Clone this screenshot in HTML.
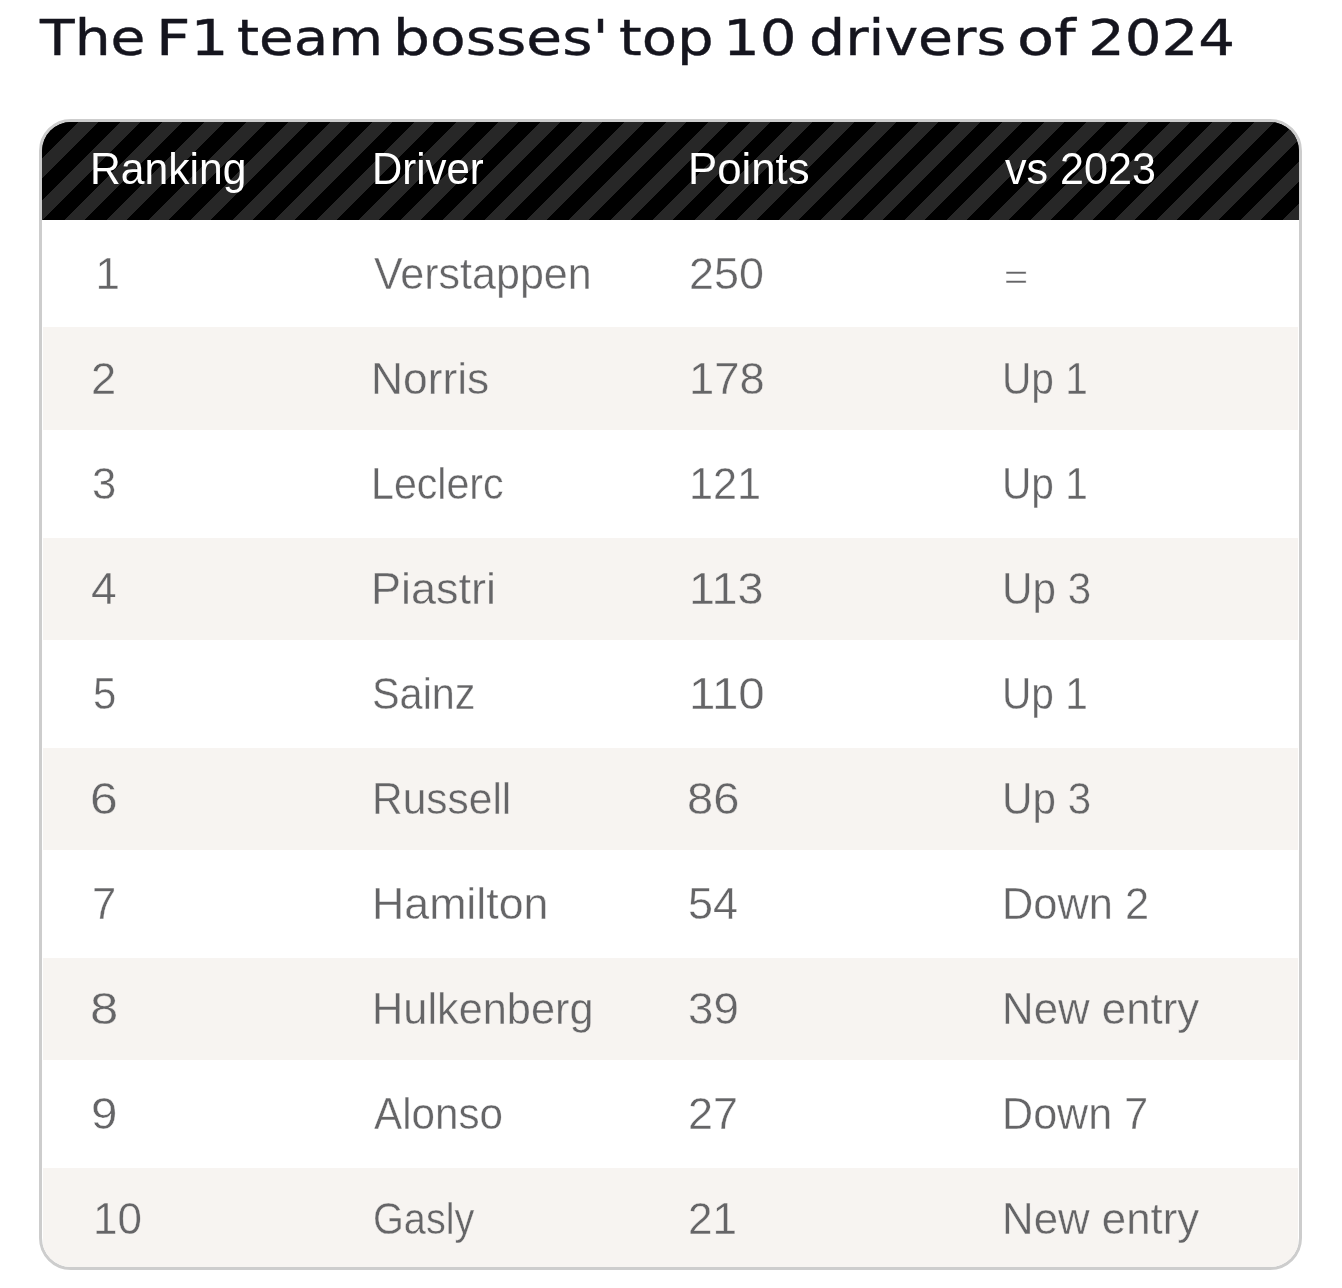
<!DOCTYPE html>
<html lang="en"><head><meta charset="utf-8"><title>The F1 team bosses' top 10 drivers of 2024</title>
<style>
html,body{margin:0;padding:0;background:#fff}
body{width:1342px;height:1288px;position:relative;overflow:hidden}
span{position:absolute;white-space:pre;line-height:0;transform-origin:0 0}
h1{margin:0;font-weight:normal;font-size:50.2px}
.t{-webkit-text-stroke:0.4px #15151e;font-family:"DejaVu Sans","Liberation Sans",sans-serif;font-size:50.2px;color:#15151e}
.h{font-family:"Liberation Sans",sans-serif;font-size:44px;color:#fff;font-weight:normal}
.c{font-family:"Liberation Sans",sans-serif;font-size:44px;color:#656567;-webkit-text-stroke:0.4px #fff}
.e{-webkit-text-stroke-color:#f7f4f1}
.box{position:absolute;left:39px;top:119px;width:1257px;height:1145px;border:3px solid #cdcdcd;border-radius:32px;overflow:hidden;background:#fff}
.hd{position:absolute;left:-5.6px;top:0;width:calc(100% + 5.6px);height:98px;background:#000 repeating-linear-gradient(135deg,#272727 0,#272727 14.7px,#000 14.7px,#000 29.7px)}
table{border-collapse:separate;border-spacing:0;table-layout:fixed;width:1255px;margin:0 1px;font-family:"Liberation Sans",sans-serif}
th,td{padding:0;border:0;text-align:left}
th{height:98px}
th:nth-child(1),td:nth-child(1){width:281px}
th:nth-child(2),td:nth-child(2){width:316px}
th:nth-child(3),td:nth-child(3){width:315px}
tbody tr:nth-child(even) td{background:#f7f4f1}
</style></head><body>
<h1><span class="t" style="left:39.78px;top:38.13px;transform:scaleX(1.1297)">The</span><span class="t" style="left:156.04px;top:38.13px;transform:scaleX(1.1922)">F1</span><span class="t" style="left:236.50px;top:38.13px;transform:scaleX(1.1222)">team</span><span class="t" style="left:392.58px;top:38.13px;transform:scaleX(1.1609)">bosses'</span><span class="t" style="left:618.56px;top:38.13px;transform:scaleX(1.1514)">top</span><span class="t" style="left:722.66px;top:38.13px;transform:scaleX(1.1527)">10</span><span class="t" style="left:808.78px;top:38.13px;transform:scaleX(1.1347)">drivers</span><span class="t" style="left:1017.17px;top:38.13px;transform:scaleX(1.2108)">of</span><span class="t" style="left:1087.88px;top:38.13px;transform:scaleX(1.1522)">2024</span></h1>
<div class="box"><div class="hd"></div>
<table>
<thead><tr><th><span class="h" style="left:48.41px;top:46.75px;transform:scaleX(0.9690)">Ranking</span></th><th><span class="h" style="left:329.67px;top:46.75px;transform:scaleX(0.9522)">Driver</span></th><th><span class="h" style="left:645.92px;top:46.75px;transform:scaleX(0.9945)">Points</span></th><th><span class="h" style="left:963.06px;top:46.75px;transform:scaleX(0.9796)">vs 2023</span></th></tr></thead>
<tbody>
<tr style="height:107px"><td><span class="c" style="left:53.55px;top:151.75px;transform:scaleX(1.0000)">1</span></td><td><span class="c" style="left:331.76px;top:151.75px;transform:scaleX(0.9777)">Verstappen</span></td><td><span class="c" style="left:647.40px;top:151.75px;transform:scaleX(1.0201)">250</span></td><td><span class="c" style="left:962.06px;top:154.70px;transform:scaleX(1.1652);font-size:35.5px">=</span></td></tr>
<tr style="height:103px"><td><span class="c e" style="left:49.28px;top:256.75px;transform:scaleX(1.0300)">2</span></td><td><span class="c e" style="left:329.17px;top:256.75px;transform:scaleX(1.0076)">Norris</span></td><td><span class="c e" style="left:647.25px;top:256.75px;transform:scaleX(1.0315)">178</span></td><td><span class="c e" style="left:960.17px;top:256.75px;transform:scaleX(0.9238)">Up 1</span></td></tr>
<tr style="height:108px"><td><span class="c" style="left:49.86px;top:361.75px;transform:scaleX(0.9928)">3</span></td><td><span class="c" style="left:329.43px;top:361.75px;transform:scaleX(0.9350)">Leclerc</span></td><td><span class="c" style="left:647.41px;top:361.75px;transform:scaleX(0.9824)">121</span></td><td><span class="c" style="left:960.17px;top:361.75px;transform:scaleX(0.9238)">Up 1</span></td></tr>
<tr style="height:102px"><td><span class="c e" style="left:49.35px;top:466.75px;transform:scaleX(1.0472)">4</span></td><td><span class="c e" style="left:329.12px;top:466.75px;transform:scaleX(1.0220)">Piastri</span></td><td><span class="c e" style="left:647.14px;top:466.75px;transform:scaleX(1.0631)">113</span></td><td><span class="c e" style="left:960.04px;top:466.75px;transform:scaleX(0.9589)">Up 3</span></td></tr>
<tr style="height:108px"><td><span class="c" style="left:50.73px;top:571.75px;transform:scaleX(0.9542)">5</span></td><td><span class="c" style="left:330.12px;top:571.75px;transform:scaleX(0.9409)">Sainz</span></td><td><span class="c" style="left:647.09px;top:571.75px;transform:scaleX(1.0789)">110</span></td><td><span class="c" style="left:960.17px;top:571.75px;transform:scaleX(0.9238)">Up 1</span></td></tr>
<tr style="height:102px"><td><span class="c e" style="left:48.26px;top:676.75px;transform:scaleX(1.1309)">6</span></td><td><span class="c e" style="left:329.62px;top:676.75px;transform:scaleX(0.9655)">Russell</span></td><td><span class="c e" style="left:644.66px;top:676.75px;transform:scaleX(1.0711)">86</span></td><td><span class="c e" style="left:960.04px;top:676.75px;transform:scaleX(0.9589)">Up 3</span></td></tr>
<tr style="height:108px"><td><span class="c" style="left:50.17px;top:781.75px;transform:scaleX(0.9900)">7</span></td><td><span class="c" style="left:330.14px;top:781.75px;transform:scaleX(1.0158)">Hamilton</span></td><td><span class="c" style="left:646.21px;top:781.75px;transform:scaleX(1.0217)">54</span></td><td><span class="c" style="left:960.35px;top:781.75px;transform:scaleX(0.9868)">Down 2</span></td></tr>
<tr style="height:102px"><td><span class="c e" style="left:48.09px;top:886.75px;transform:scaleX(1.1561)">8</span></td><td><span class="c e" style="left:330.25px;top:886.75px;transform:scaleX(0.9847)">Hulkenberg</span></td><td><span class="c e" style="left:646.18px;top:886.75px;transform:scaleX(1.0387)">39</span></td><td><span class="c e" style="left:960.32px;top:886.75px;transform:scaleX(0.9954)">New entry</span></td></tr>
<tr style="height:108px"><td><span class="c" style="left:48.64px;top:991.75px;transform:scaleX(1.0780)">9</span></td><td><span class="c" style="left:331.76px;top:991.75px;transform:scaleX(0.9585)">Alonso</span></td><td><span class="c" style="left:645.70px;top:991.75px;transform:scaleX(1.0225)">27</span></td><td><span class="c" style="left:960.37px;top:991.75px;transform:scaleX(0.9798)">Down 7</span></td></tr>
<tr style="height:102px"><td><span class="c e" style="left:51.05px;top:1096.75px;transform:scaleX(1.0000)">10</span></td><td><span class="c e" style="left:330.97px;top:1096.75px;transform:scaleX(0.9018)">Gasly</span></td><td><span class="c e" style="left:645.74px;top:1096.75px;transform:scaleX(1.0022)">21</span></td><td><span class="c e" style="left:960.32px;top:1096.75px;transform:scaleX(0.9954)">New entry</span></td></tr>
</tbody>
</table>
</div>
</body></html>
